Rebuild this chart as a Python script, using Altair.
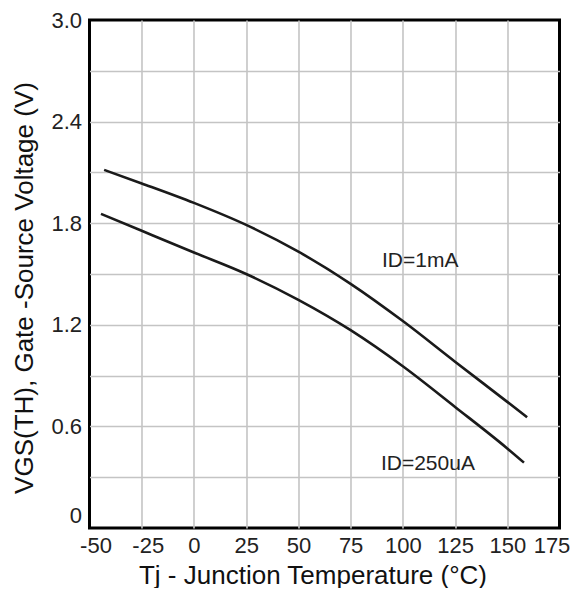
import altair as alt
import pandas as pd

# ID = 1 mA curve
t_1ma = [-43, -25, 0, 25, 50, 75, 100, 125, 150, 159.5]
v_1ma = [2.115, 2.035, 1.92, 1.79, 1.632, 1.442, 1.222, 0.982, 0.745, 0.654]

# ID = 250 uA curve
t_250 = [-44.5, -25, 0, 25, 50, 75, 100, 125, 150, 158]
v_250 = [1.855, 1.755, 1.627, 1.5, 1.347, 1.168, 0.955, 0.715, 0.47, 0.386]

# annotations
ann_text = ["ID=1mA", "ID=250uA"]
ann_t = [90, 89.5]
ann_v = [1.542, 0.343]

x_grid = [-50 + 12.5 * i for i in range(19)]
y_grid = [round(0.3 * i, 1) for i in range(11)]

curves = pd.DataFrame(
    {"T": t_1ma + t_250,
     "V": v_1ma + v_250,
     "series": ["1mA"] * len(t_1ma) + ["250uA"] * len(t_250)}
)
ann = pd.DataFrame({"T": ann_t, "V": ann_v, "label": ann_text})

TICK_FONT = "Liberation Sans, Arial, sans-serif"
TITLE_FONT = "Liberation Sans, Arial, sans-serif"

x_scale = alt.Scale(domain=[-50, 175], nice=False, zero=False)
y_scale = alt.Scale(domain=[0, 3.0], nice=False, zero=False)

x_axis = alt.Axis(
    values=x_grid,
    title="Tj - Junction Temperature (°C)",
    labelExpr="datum.value % 25 == 0 ? (datum.value < 0 ? '-' + abs(datum.value) : '' + datum.value) : ''",
    grid=True,
    gridColor="#c4c4c4",
    gridWidth=1.6,
    gridOpacity={"condition": {"test": "datum.value == -50 || datum.value == 175", "value": 0}, "value": 1},
    domain=False,
    ticks=False,
    labelFont=TICK_FONT,
    labelFontSize=22,
    labelColor="#222222",
    labelPadding=7,
    labelOffset={"condition": [{"test": "datum.value < 0", "value": 6},
                               {"test": "datum.value == 175", "value": -8}], "value": 0},
    labelFlush=False,
    labelOverlap=False,
    titleFont=TITLE_FONT,
    titleFontSize=26,
    titleFontWeight="normal",
    titleColor="#111111",
    titleX=223,
    titleY=55,
    titleAlign="center",
    titleBaseline="alphabetic",
)

y_axis = alt.Axis(
    values=y_grid,
    title="VGS(TH), Gate -Source Voltage (V)",
    labelExpr="datum.value == 0 ? '0' : (round(datum.value * 10) % 6 == 0 ? format(datum.value, '.1f') : '')",
    grid=True,
    gridColor="#c4c4c4",
    gridWidth=1.6,
    gridOpacity={"condition": {"test": "datum.value == 0 || datum.value == 3", "value": 0}, "value": 1},
    domain=False,
    ticks=False,
    labelFont=TICK_FONT,
    labelFontSize=22,
    labelColor="#222222",
    labelPadding=8,
    labelOffset={"condition": {"test": "datum.value == 0", "value": -13}, "value": 0},
    labelFlush=False,
    labelOverlap=False,
    titleFont=TITLE_FONT,
    titleFontSize=26,
    titleFontWeight="normal",
    titleColor="#111111",
    titleAngle=270,
    titleX=-57.5,
    titleY=267.5,
    titleAlign="center",
    titleBaseline="alphabetic",
)

lines = alt.Chart(curves).mark_line(
    color="#1a1a1a", strokeWidth=2.6, interpolate="monotone"
).encode(
    x=alt.X("T:Q", scale=x_scale, axis=x_axis),
    y=alt.Y("V:Q", scale=y_scale, axis=y_axis),
    detail="series:N",
)

labels = alt.Chart(ann).mark_text(
    align="left", baseline="alphabetic", font=TICK_FONT, fontSize=21, color="#222222"
).encode(
    x=alt.X("T:Q", scale=x_scale),
    y=alt.Y("V:Q", scale=y_scale),
    text="label:N",
)

chart = alt.layer(lines, labels).properties(
    width=470,
    height=508,
    background="white",
    autosize=alt.AutoSizeParams(type="none"),
    padding={"left": 81.5, "top": 12, "right": 13, "bottom": 60},
).configure_view(
    stroke="#000000", strokeWidth=3
)

chart.save("out.html", embed_options={"renderer": "svg", "actions": False})
